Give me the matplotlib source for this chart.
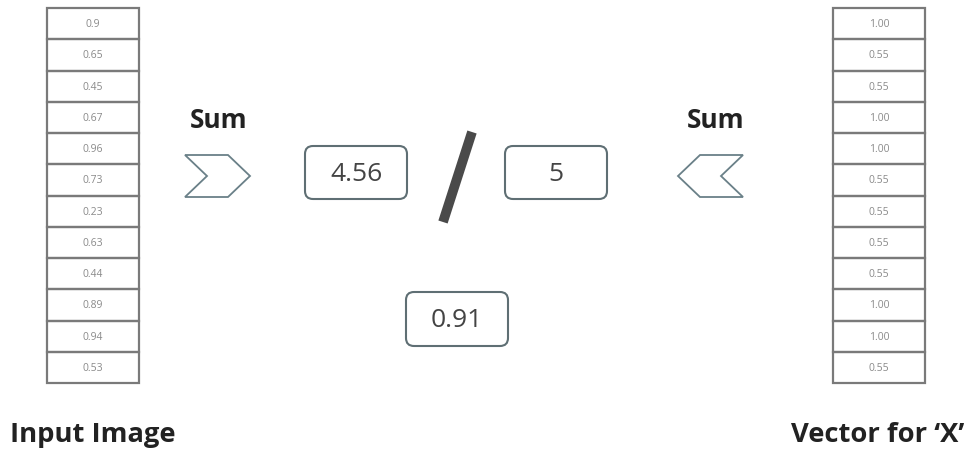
import matplotlib
matplotlib.use("Agg")
import matplotlib.pyplot as plt
from matplotlib.patches import Rectangle, FancyBboxPatch, Polygon

# values shown in the two columns
input_values = ["0.9", "0.65", "0.45", "0.67", "0.96", "0.73",
                "0.23", "0.63", "0.44", "0.89", "0.94", "0.53"]
vector_values = ["1.00", "0.55", "0.55", "1.00", "1.00", "0.55",
                 "0.55", "0.55", "0.55", "1.00", "1.00", "0.55"]
sum_input = "4.56"
sum_vector = "5"
result = "0.91"

plt.rcParams['font.family'] = ['Open Sans', 'DejaVu Sans']

fig = plt.figure(figsize=(9.72, 4.52), dpi=100)
ax = fig.add_axes([0, 0, 1, 1])
ax.set_xlim(0, 972)
ax.set_ylim(452, 0)
ax.axis('off')

edge = '#7a7a7a'
txt = '#444444'
box_edge = '#5f6f74'


def column(x0, width, top, bottom, values):
    h = (bottom - top) / len(values)
    for i, v in enumerate(values):
        y = top + i * h
        ax.add_patch(Rectangle((x0, y), width, h, fill=False, ec=edge, lw=1.6))
        ax.text(x0 + width / 2, y + h / 2, v, ha='center', va='center',
                fontsize=7.5, color='#8a8a8a')


column(47, 92, 9, 384, input_values)
column(833, 92, 9, 384, vector_values)


def box(x0, y0, w, h, s):
    ax.add_patch(FancyBboxPatch((x0, y0), w, h,
                                boxstyle="round,pad=0,rounding_size=8",
                                fill=False, ec=box_edge, lw=1.5))
    ax.text(x0 + w / 2, y0 + h / 2 + 1, s, ha='center', va='center',
            fontsize=19, color=txt)


box(305, 147, 102, 53, sum_input)
box(505, 147, 102, 53, sum_vector)
box(406, 293, 102, 54, result)

# division slash
ax.plot([472, 443], [133, 223], color='#4a4a4a', lw=7, solid_capstyle='butt')

# chevrons
ax.add_patch(Polygon([(185, 156), (228, 156), (250, 177), (228, 198),
                      (185, 198), (207, 177)], closed=True, fill=False,
                     ec='#6a8088', lw=1.3))
ax.add_patch(Polygon([(678, 177), (700, 156), (743, 156), (721, 177),
                      (743, 198), (700, 198)], closed=True, fill=False,
                     ec='#6a8088', lw=1.3))

ax.text(219, 121, "Sum", ha='center', va='center', fontsize=19,
        fontweight='bold', color='#222222')
ax.text(716, 121, "Sum", ha='center', va='center', fontsize=19,
        fontweight='bold', color='#222222')

ax.text(10, 435, "Input Image", ha='left', va='center', fontsize=19.7,
        fontweight='bold', color='#222222')
ax.text(964, 435, "Vector for \u2018X\u2019", ha='right', va='center', fontsize=19.7,
        fontweight='bold', color='#222222')

fig.savefig("out.png", dpi=100)
